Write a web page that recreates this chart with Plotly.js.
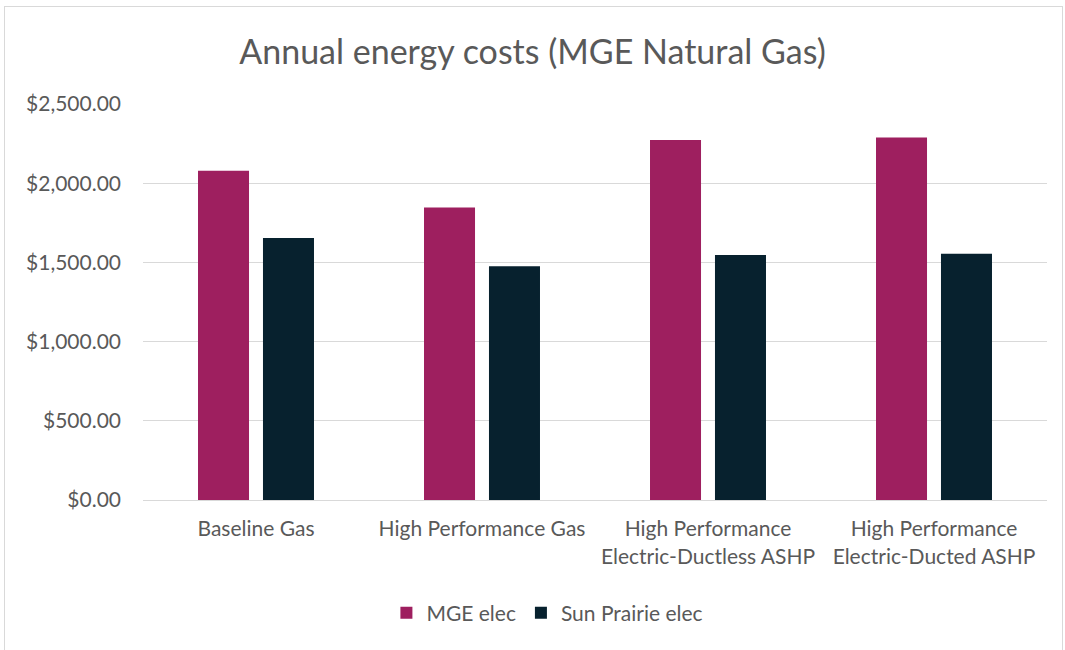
<!DOCTYPE html>
<html><head><meta charset="utf-8">
<script src="https://cdn.plot.ly/plotly-3.0.1.min.js"></script>
<style>
html,body{margin:0;padding:0;background:#fff;}
#chart{position:absolute;left:0;top:0;width:1065px;height:650px;}
#frame{position:absolute;left:4px;top:6px;width:1057px;height:660px;border:1px solid #d9d9d9;pointer-events:none;}
</style></head>
<body>
<div id="chart"></div>
<div id="frame"></div>
<script>
const categories = ["Baseline Gas", "High Performance Gas", "High Performance<br>Electric-Ductless ASHP", "High Performance<br>Electric-Ducted ASHP"];
const mgeElec = [2078, 1847, 2273, 2288];
const sunPrairieElec = [1654, 1476, 1547, 1555];
const seriesNames = ["MGE elec", "Sun Prairie elec"];

const fontFam = "Lato, 'Open Sans', sans-serif";
const data = [
  {type:'bar', x:categories, y:mgeElec, name:seriesNames[0], marker:{color:'#9e1f5f'}},
  {type:'bar', x:categories, y:sunPrairieElec, name:seriesNames[1], marker:{color:'#07212e'}}
];
const layout = {
  width:1065, height:650,
  margin:{l:143, r:18, t:104, b:150},
  paper_bgcolor:'rgba(0,0,0,0)', plot_bgcolor:'#fff',
  font:{family:fontFam, color:'#595959', size:21},
  title:{text:'Annual energy costs (MGE Natural Gas)', font:{family:fontFam, size:34, color:'#595959'}, x:0.5, xref:'container', xanchor:'center', y:1-52/650, yref:'container', yanchor:'middle'},
  barmode:'group', bargap:0.425, bargroupgap:0.215,
  xaxis:{tickfont:{size:21, color:'#595959'}, showline:true, linecolor:'#d9d9d9', linewidth:1, ticks:'', ticklabelstandoff:10, automargin:false},
  yaxis:{range:[0,2500], dtick:500, tickformat:'$,.2f', gridcolor:'#d9d9d9', gridwidth:1, zeroline:true, zerolinecolor:'#d9d9d9', ticks:'', ticklabelstandoff:21, tickfont:{size:21, color:'#595959'}, automargin:false},
  showlegend:true,
  legend:{orientation:'h', xref:'container', x:0.514, xanchor:'center', yref:'container', y:1-613/650, yanchor:'middle', font:{size:21, color:'#595959'}, itemwidth:30, tracegroupgap:0},
};
Plotly.newPlot('chart', data, layout, {displayModeBar:false, staticPlot:true});
</script>
</body></html>
